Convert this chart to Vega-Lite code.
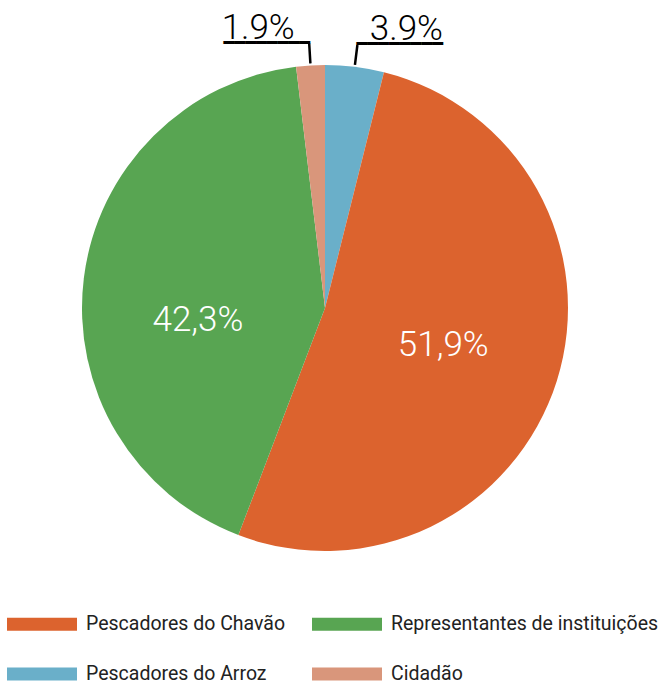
{
  "$schema": "https://vega.github.io/schema/vega-lite/v6.json",
  "width": 650,
  "height": 616,
  "autosize": "none",
  "padding": {"left": 0, "top": 0, "right": 13, "bottom": 68},
  "background": "white",
  "config": {"view": {"stroke": null}},
  "data": {
    "values": [
      {"grupo": "Pescadores do Arroz", "pct": 3.9, "ordem": 1, "rotulo": "3.9%"},
      {"grupo": "Pescadores do Chavão", "pct": 51.9, "ordem": 2, "rotulo": "51,9%"},
      {"grupo": "Representantes de instituições", "pct": 42.3, "ordem": 3, "rotulo": "42,3%"},
      {"grupo": "Cidadão", "pct": 1.9, "ordem": 4, "rotulo": "1.9%"}
    ]
  },
  "encoding": {
    "theta": {"field": "pct", "type": "quantitative", "stack": true},
    "order": {"field": "ordem", "type": "quantitative"}
  },
  "layer": [
    {
      "mark": {"type": "arc", "outerRadius": 243},
      "encoding": {
        "color": {
          "field": "grupo",
          "type": "nominal",
          "scale": {
            "domain": ["Pescadores do Chavão", "Representantes de instituições", "Pescadores do Arroz", "Cidadão"],
            "range": ["#DC632E", "#58A552", "#6AAFC9", "#D9967B"]
          },
          "legend": {
            "title": null,
            "orient": "none",
            "direction": "horizontal",
            "legendX": 7,
            "legendY": 589,
            "columns": 2,
            "columnPadding": 26,
            "rowPadding": 5,
            "symbolType": "M-1,-0.185H1V0.185H-1Z",
            "symbolSize": 4900,
            "symbolStrokeWidth": 0,
            "symbolOpacity": 1,
            "labelFont": "Roboto",
            "labelFontSize": 19.5,
            "labelColor": "#222222",
            "labelOffset": 9,
            "labelLimit": 400
          }
        }
      }
    },
    {
      "mark": {"type": "arc", "innerRadius": 245, "outerRadius": 265, "padAngle": 0.5, "fillOpacity": 0, "stroke": "black", "strokeWidth": 2.5},
      "encoding": {
        "strokeOpacity": {
          "condition": {"test": "datum.grupo === 'Cidadão' || datum.grupo === 'Pescadores do Arroz'", "value": 1},
          "value": 0
        }
      }
    },
    {
      "mark": {"type": "text", "radius": 265, "font": "Roboto", "fontWeight": 300, "fontSize": 35, "color": "black", "align": "center", "baseline": "alphabetic", "dx": -51, "dy": -4},
      "encoding": {
        "text": {"condition": {"test": "datum.grupo === 'Cidadão'", "field": "rotulo"}, "value": ""}
      }
    },
    {
      "mark": {"type": "text", "radius": 265, "font": "Roboto", "fontWeight": 300, "fontSize": 35, "color": "black", "align": "center", "baseline": "alphabetic", "dx": 49, "dy": -5},
      "encoding": {
        "text": {"condition": {"test": "datum.grupo === 'Pescadores do Arroz'", "field": "rotulo"}, "value": ""}
      }
    },
    {
      "mark": {"type": "text", "radius": 265, "font": "DejaVu Sans Mono", "fontSize": 18, "color": "black", "align": "right", "baseline": "middle", "dx": 1, "dy": 1},
      "encoding": {
        "text": {"condition": {"test": "datum.grupo === 'Cidadão'", "value": "━━━━━━━━"}, "value": ""}
      }
    },
    {
      "mark": {"type": "text", "radius": 265, "font": "DejaVu Sans Mono", "fontSize": 18, "color": "black", "align": "left", "baseline": "middle", "dx": -1, "dy": 0},
      "encoding": {
        "text": {"condition": {"test": "datum.grupo === 'Pescadores do Arroz'", "value": "━━━━━━━━"}, "value": ""}
      }
    },
    {
      "mark": {"type": "text", "radius": 124, "font": "Roboto", "fontWeight": 300, "fontSize": 35, "color": "white", "align": "center", "baseline": "middle"},
      "encoding": {
        "text": {"condition": {"test": "datum.grupo === 'Pescadores do Chavão'", "field": "rotulo"}, "value": ""}
      }
    },
    {
      "mark": {"type": "text", "radius": 124, "font": "Roboto", "fontWeight": 300, "fontSize": 35, "color": "white", "align": "center", "baseline": "middle", "dx": -4, "dy": 27},
      "encoding": {
        "text": {"condition": {"test": "datum.grupo === 'Representantes de instituições'", "field": "rotulo"}, "value": ""}
      }
    }
  ]
}
